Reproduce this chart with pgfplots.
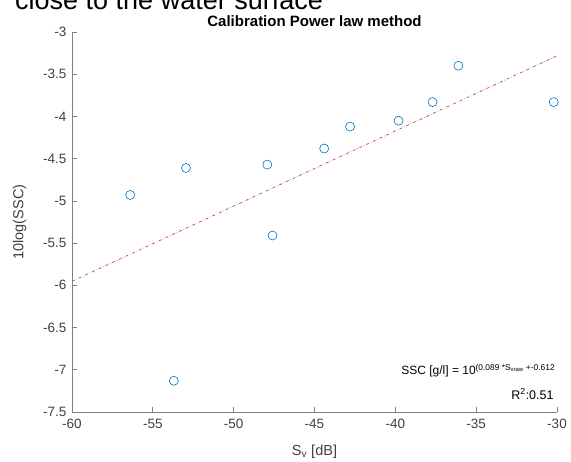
\documentclass[border=0pt]{standalone}
\usepackage{pgfplots}
\pgfplotsset{compat=1.18}
\usepackage{fontspec}
\setmainfont{Liberation Sans}
\definecolor{mblue}{rgb}{0,0.447,0.741}
\definecolor{fitred}{rgb}{0.75,0.28,0.28}
\definecolor{axgray}{rgb}{0.50,0.50,0.50}
\begin{document}
\begin{tikzpicture}
\useasboundingbox (0,0) rectangle (571bp,462bp);
\begin{scope}
\clip (0,0) rectangle (571bp,462bp);
\node[anchor=base west,inner sep=0pt,font=\fontsize{27bp}{30bp}\selectfont] at (15bp,452bp) {close to the water surface};
\end{scope}
\begin{axis}[
  at={(72bp,50bp)},anchor=south west,
  scale only axis,width=485bp,height=380bp,
  xmin=-60,xmax=-30,ymin=-7.5,ymax=-3,
  xtick={-60,-55,...,-30},ytick={-7.5,-7,...,-3},
  axis x line*=bottom,axis y line*=left,
  tick align=inside,major tick length=5bp,
  axis line style={axgray,line width=0.7bp},
  tick style={axgray,line width=0.7bp},
  /pgf/number format/assume math mode=true,
  tick label style={font=\fontsize{13.5bp}{15bp}\selectfont,color=black!75},
  yticklabel style={xshift=-2bp,/pgf/number format/.cd,fixed,precision=1},
  xticklabel style={yshift=-4bp},
  title={\bfseries Calibration Power law method},
  title style={font=\fontsize{15bp}{17bp}\selectfont,yshift=-4bp},
  xlabel={S\textsubscript{v} [dB]},
  ylabel={10log(SSC)},
  label style={font=\fontsize{14.5bp}{16bp}\selectfont,color=black!75},
  xlabel style={yshift=-9bp},
  ylabel style={yshift=10bp},
  clip=false,
]
\addplot[only marks,mark=o,mark size=4.5bp,mark options={mblue,line width=0.6bp}] coordinates {
(-56.4,-4.93) (-52.95,-4.61) (-53.7,-7.13) (-47.92,-4.57) (-47.6,-5.41)
(-44.4,-4.38) (-42.8,-4.12) (-39.8,-4.05) (-37.7,-3.83) (-36.1,-3.40) (-30.2,-3.83)
};
\addplot[fitred,dash dot,line width=0.7bp] coordinates {(-60,-5.952) (-30,-3.282)};
\node[anchor=base east,inner sep=0pt,font=\fontsize{12bp}{14bp}\selectfont] at (axis cs:-30.1,-7.06)
  {SSC [g/l] = 10\textsuperscript{(0.089 *S\textsubscript{vraw} +-0.612}};
\node[anchor=base east,inner sep=0pt,font=\fontsize{12.5bp}{14bp}\selectfont] at (axis cs:-30.2,-7.35)
  {R\textsuperscript{2}:0.51};
\end{axis}
\end{tikzpicture}
\end{document}
